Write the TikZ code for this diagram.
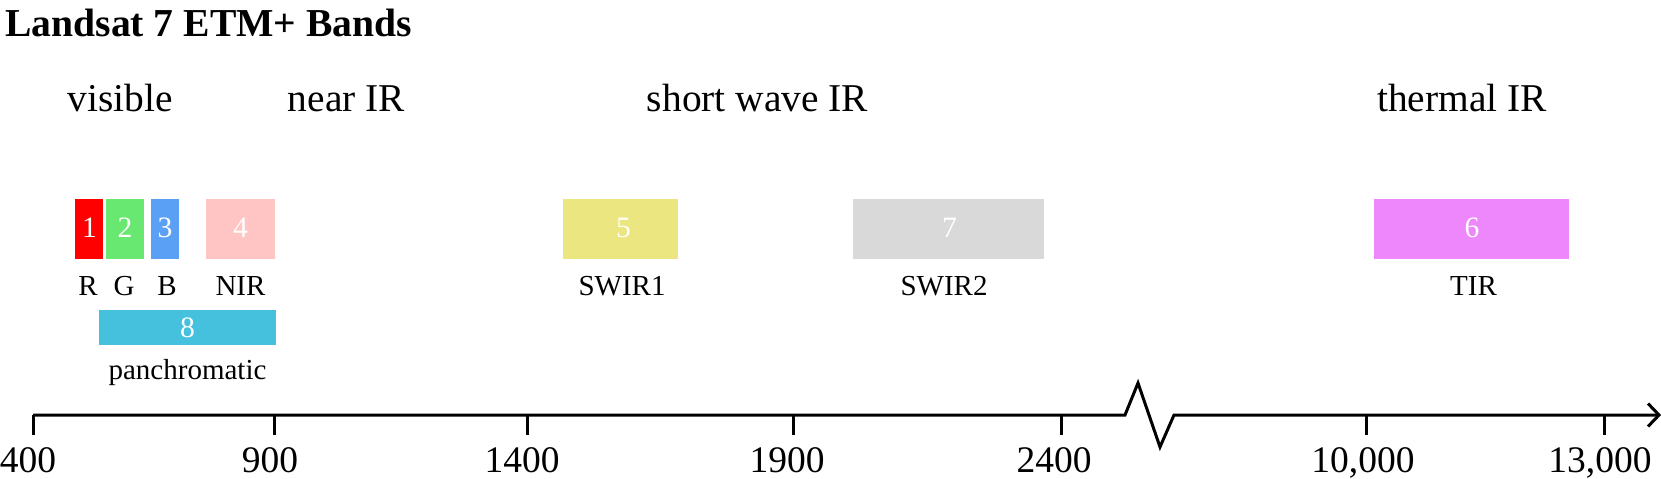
\documentclass[tikz,border=0pt]{standalone}
\usepackage{fontspec}
\setmainfont{Liberation Serif}
\usetikzlibrary{fit}
\definecolor{cR}{RGB}{255,0,0}
\definecolor{cG}{RGB}{104,232,112}
\definecolor{cB}{RGB}{90,160,245}
\definecolor{cNIR}{RGB}{255,196,196}
\definecolor{cPan}{RGB}{69,193,222}
\definecolor{cSW1}{RGB}{235,230,127}
\definecolor{cSW2}{RGB}{217,217,217}
\definecolor{cTIR}{RGB}{238,135,252}
\begin{document}
\begin{tikzpicture}[x=0.5pt,y=-0.5pt,
  bandbox/.style={inner sep=0pt, outer sep=0pt, draw=none},
  numtxt/.style={inner sep=0pt, anchor=base, text=white, font=\fontsize{14.8}{16}\selectfont},
  smalltxt/.style={inner sep=0pt, anchor=base, text=black, font=\fontsize{14.5}{16}\selectfont},
  cattxt/.style={inner sep=0pt, anchor=base, font=\fontsize{19.7}{22}\selectfont},
  titletxt/.style={inner sep=0pt, anchor=base west, font=\fontsize{19.8}{22}\selectfont\bfseries},
  ticktxt/.style={inner sep=0pt, anchor=base, font=\fontsize{18.75}{21}\selectfont},
  axisline/.style={line width=1.5pt, line join=miter},
  tickline/.style={line width=1.5pt}]
\useasboundingbox (0,0) rectangle (1661,478);

% title
\node[titletxt] (title) at (5,36) {Landsat 7 ETM+ Bands};

% categories
\node[cattxt] (visible) at (120.5,111) {visible};
\node[cattxt] (nearir) at (346.5,111) {near IR};
\node[cattxt] (swir) at (757.5,111) {short wave IR};
\node[cattxt] (tir) at (1462,111) {thermal IR};

% band boxes
\node[bandbox, fill=cR, fit={(75,199) (103,259)}] (b1) {};
\node[bandbox, fill=cG, fit={(106,199) (144,259)}] (b2) {};
\node[bandbox, fill=cB, fit={(151,199) (179,259)}] (b3) {};
\node[bandbox, fill=cNIR, fit={(206,199) (275,259)}] (b4) {};
\node[bandbox, fill=cPan, fit={(99,310) (276,345)}] (b8) {};
\node[bandbox, fill=cSW1, fit={(563,199) (678,259)}] (b5) {};
\node[bandbox, fill=cSW2, fit={(853,199) (1044,259)}] (b7) {};
\node[bandbox, fill=cTIR, fit={(1374,199) (1569,259)}] (b6) {};

% band numbers
\node[numtxt] (n1) at (89.5,237) {1};
\node[numtxt] (n2) at (125,237) {2};
\node[numtxt] (n3) at (165,237) {3};
\node[numtxt] (n4) at (240.5,237) {4};
\node[numtxt] (n8) at (187.5,337) {8};
\node[numtxt] (n5) at (623.5,237) {5};
\node[numtxt] (n7) at (949.5,237) {7};
\node[numtxt] (n6) at (1472,237) {6};

% band names
\node[smalltxt] (lR) at (88,295) {R};
\node[smalltxt] (lG) at (124,295) {G};
\node[smalltxt] (lB) at (167,295) {B};
\node[smalltxt] (lNIR) at (240.5,295) {NIR};
\node[smalltxt] (lSW1) at (622,295) {SWIR1};
\node[smalltxt] (lSW2) at (944,295) {SWIR2};
\node[smalltxt] (lTIR) at (1473.5,295) {TIR};
\node[smalltxt] (lPan) at (187.5,379) {panchromatic};

% axis
\coordinate (a0) at (33,415);
\coordinate (z1) at (1125,415);
\coordinate (z2) at (1138,383);
\coordinate (z3) at (1160,447);
\coordinate (z4) at (1174,415);
\coordinate (aend) at (1659,415);
\draw[axisline] (a0) -- (z1) -- (z2) -- (z3) -- (z4) -- (aend);
\draw[axisline] (1648,403.5) -- (aend) -- (1648,426.5);

% ticks
\foreach \tx/\lx/\lab/\nm in {33/28/400/t400, 274/270/900/t900, 527/522/1400/t1400, 793/787/1900/t1900, 1061/1054/2400/t2400, 1366/1363/{10,000}/t10k, 1604/1600/{13,000}/t13k}{
  \draw[tickline] (\tx,415) -- (\tx,435);
  \node[ticktxt] (\nm) at (\lx,472) {\lab};
}
\end{tikzpicture}
\end{document}
